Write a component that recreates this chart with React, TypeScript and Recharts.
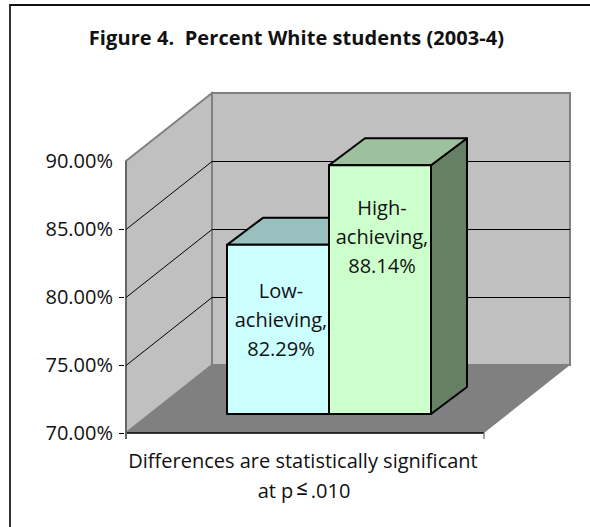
import { Bar, BarChart, LabelList, ReferenceArea, ReferenceLine, XAxis, YAxis } from 'recharts';

const categories = ['Differences are statistically significant'];
const lowAchieving = [82.29];
const highAchieving = [88.14];
const lowLabelLines = ['Low-', 'achieving,'];
const highLabelLines = ['High-', 'achieving,'];
const yTicks = [70, 75, 80, 85, 90];
const wallGridValues = [75, 80, 85];

const chartData = categories.map((category, i) => ({
  category,
  low: lowAchieving[i],
  high: highAchieving[i],
}));

const FONT = '"Open Sans", sans-serif';

// Oblique offset of the back wall and of a bar's own depth
const WALL_DX = 86;
const WALL_DY = -68;
const BAR_DX = 36;
const BAR_DY = -27;
// The bars stand part way into the floor
const BAR_SHIFT_X = 24;
const BAR_LIFT_TOP = 21;
const BAR_LIFT_BOTTOM = 19;

const WALL_FILL = '#c0c0c0';
const WALL_EDGE = '#808080';
const FLOOR_FILL = '#808080';

// Side wall, back wall and floor, all sized from the plot rectangle
const Walls = ({ x, y, width, height }: any) => {
  const bottom = y + height;
  const right = x + width;
  return (
    <g>
      <polygon
        points={`${x},${y} ${x + WALL_DX},${y + WALL_DY} ${x + WALL_DX},${bottom + WALL_DY} ${x},${bottom}`}
        fill={WALL_FILL}
        stroke={WALL_EDGE}
        strokeWidth={2}
      />
      <rect
        x={x + WALL_DX}
        y={y + WALL_DY}
        width={width}
        height={height}
        fill={WALL_FILL}
        stroke={WALL_EDGE}
        strokeWidth={2}
      />
      <polygon
        points={`${x},${bottom} ${x + WALL_DX},${bottom + WALL_DY} ${right + WALL_DX},${bottom + WALL_DY} ${right},${bottom}`}
        fill={FLOOR_FILL}
      />
      <line x1={x} y1={bottom} x2={right} y2={bottom} stroke='#000' strokeWidth={1.5} />
      <line x1={x} y1={y} x2={x} y2={bottom + 6} stroke='#666' strokeWidth={2} />
      <line x1={right} y1={bottom} x2={right} y2={bottom + 6} stroke='#808080' strokeWidth={1.5} />
    </g>
  );
};

// One gridline runs up the side wall and then along the back wall.
// The half pixel keeps the horizontal part sharp.
const WallGridLine = ({ x1, y1, x2 }: any) => (
  <polyline
    points={`${x1},${y1 + 0.5} ${x1 + WALL_DX},${y1 + WALL_DY + 0.5} ${x2 + WALL_DX},${y1 + WALL_DY + 0.5}`}
    fill='none'
    stroke='#000'
    strokeWidth={1}
  />
);

const Bar3D = ({ x, y, width, height, front, top, side }: any) => {
  const left = x + BAR_SHIFT_X;
  const right = left + width;
  const yTop = y - BAR_LIFT_TOP;
  const yBottom = y + height - BAR_LIFT_BOTTOM;
  const edge = { stroke: '#000', strokeWidth: 2, strokeLinejoin: 'round' as const };
  return (
    <g>
      <polygon
        points={`${right},${yTop} ${right + BAR_DX},${yTop + BAR_DY} ${right + BAR_DX},${yBottom + BAR_DY} ${right},${yBottom}`}
        fill={side}
        {...edge}
      />
      <polygon
        points={`${left},${yTop} ${left + BAR_DX},${yTop + BAR_DY} ${right + BAR_DX},${yTop + BAR_DY} ${right},${yTop}`}
        fill={top}
        {...edge}
      />
      <rect x={left} y={yTop} width={width} height={yBottom - yTop} fill={front} {...edge} />
    </g>
  );
};

const BarText = ({ viewBox, value, lines, firstLine, nudge }: any) => {
  const cx = viewBox.x + BAR_SHIFT_X + viewBox.width / 2 + nudge;
  const rows = [...lines, `${Number(value).toFixed(2)}%`];
  return (
    <text x={cx} textAnchor='middle' fontFamily={FONT} fontSize={20} fill='#111'>
      {rows.map((row: string, i: number) => (
        <tspan key={row} x={cx} y={viewBox.y + firstLine + i * 29}>
          {row}
        </tspan>
      ))}
    </text>
  );
};

const ValueTick = ({ x, y, payload }: any) => (
  <g>
    {payload.value !== 90 && <line x1={x + 1} y1={y + 0.5} x2={x + 6} y2={y + 0.5} stroke='#000' />}
    <text x={x - 5} y={y + 7} textAnchor='end' fontFamily={FONT} fontSize={20} fill='#111'>
      {`${payload.value.toFixed(2)}%`}
    </text>
  </g>
);

const CategoryTick = ({ x, y, payload }: any) => (
  <g fontFamily={FONT} fontSize={20} fill='#111' textAnchor='middle'>
    <text x={x - 2} y={y + 27}>{payload.value}</text>
    <text x={x - 1} y={y + 57}>
      at p
      <tspan dx={3} dy={-3} fontSize={20} fontWeight={600}>≤</tspan>
      <tspan dx={3} dy={3}>.010</tspan>
    </text>
  </g>
);

const App = () => {
  return (
    <div style={{ position: 'absolute', left: 0, top: 0, width: 590, height: 527, background: '#fff', overflow: 'hidden' }}>
      {/* Frame around the figure, open towards the page edges */}
      <div
        style={{
          position: 'absolute',
          left: 9,
          top: 4,
          width: 600,
          height: 600,
          borderLeft: '2px solid #333',
          borderTop: '2px solid #111',
        }}
      />
      <div
        style={{
          position: 'absolute',
          left: 0,
          top: 22,
          width: 593,
          textAlign: 'center',
          fontFamily: FONT,
          fontWeight: 700,
          fontSize: 20,
          letterSpacing: 0.07,
          lineHeight: '32px',
          color: '#111',
          whiteSpace: 'pre',
        }}
      >
        {'Figure 4.  Percent White students (2003-4)'}
      </div>
      <BarChart
        width={590}
        height={527}
        data={chartData}
        margin={{ top: 161, right: 106, bottom: 34, left: 66 }}
        barSize={102}
        barGap={0}
        style={{ position: 'absolute', left: 0, top: 0 }}
      >
        <XAxis dataKey='category' height={60} axisLine={false} tickLine={false} tick={<CategoryTick />} interval={0} />
        <YAxis
          width={60}
          domain={[70, 90]}
          ticks={yTicks}
          axisLine={false}
          tickLine={false}
          tick={<ValueTick />}
        />
        <ReferenceArea y1={70} y2={90} shape={<Walls />} zIndex={100} />
        {wallGridValues.map((value) => (
          <ReferenceLine key={value} y={value} shape={<WallGridLine />} zIndex={200} />
        ))}
        <Bar
          dataKey='low'
          isAnimationActive={false}
          shape={<Bar3D front='#ccffff' top='#99bfbf' side='#668080' />}
        >
          <LabelList dataKey='low' content={<BarText lines={lowLabelLines} firstLine={32} nudge={3} />} />
        </Bar>
        <Bar
          dataKey='high'
          isAnimationActive={false}
          shape={<Bar3D front='#ccffcc' top='#9dc19d' side='#668066' />}
        >
          <LabelList dataKey='high' content={<BarText lines={highLabelLines} firstLine={29} nudge={2} />} />
        </Bar>
      </BarChart>
    </div>
  );
};

export default App;
